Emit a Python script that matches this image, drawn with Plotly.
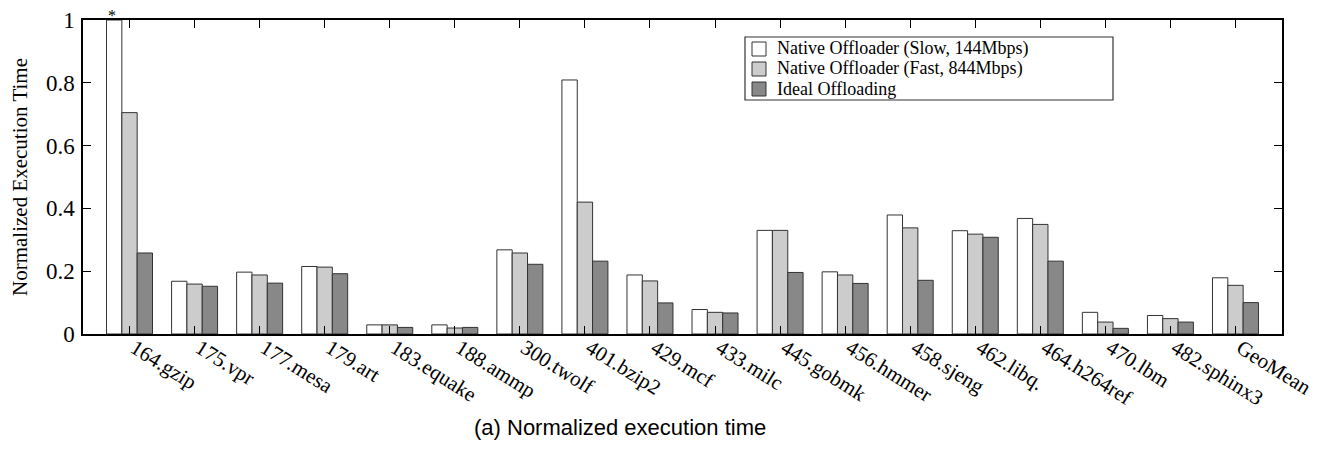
import plotly.graph_objects as go

categories = ["164.gzip", "175.vpr", "177.mesa", "179.art", "183.equake", "188.ammp",
              "300.twolf", "401.bzip2", "429.mcf", "433.milc", "445.gobmk", "456.hmmer",
              "458.sjeng", "462.libq.", "464.h264ref", "470.lbm", "482.sphinx3", "GeoMean"]
slow = [1.0, 0.168, 0.197, 0.215, 0.029, 0.029, 0.268, 0.809, 0.188, 0.078, 0.33, 0.198,
        0.379, 0.329, 0.368, 0.069, 0.059, 0.179]
fast = [0.705, 0.159, 0.188, 0.213, 0.029, 0.019, 0.258, 0.42, 0.169, 0.069, 0.33, 0.188,
        0.338, 0.318, 0.349, 0.038, 0.049, 0.155]
ideal = [0.258, 0.152, 0.162, 0.192, 0.021, 0.021, 0.222, 0.232, 0.099, 0.067, 0.196, 0.161,
         0.171, 0.308, 0.232, 0.018, 0.038, 0.1]
series_names = ["Native Offloader (Slow, 144Mbps)", "Native Offloader (Fast, 844Mbps)",
                "Ideal Offloading"]
series_colors = ["#ffffff", "#cccccc", "#888888"]
y_ticks = [0, 0.2, 0.4, 0.6, 0.8, 1]
y_ticktext = ["0", "0.2", "0.4", "0.6", "0.8", "1"]

SERIF = "Liberation Serif"
OFF = 8  # page body margin
W, H = 1325 - OFF, 463 - OFF
L, R, T, B = 83 - OFF, 43, 20 - OFF, 129
PW, PH = W - L - R, H - T - B


def px_x(x):
    return (x - OFF - L) / PW


def px_y(y):
    return (H - B - (y - OFF)) / PH


fig = go.Figure()
for name, vals, col in zip(series_names, [slow, fast, ideal], series_colors):
    fig.add_trace(go.Bar(x=categories, y=vals, name=name, showlegend=False,
                         marker=dict(color=col, line=dict(color="#333333", width=1))))

# manual legend (tight spacing like the original)
fig.add_shape(type="rect", xref="paper", yref="paper",
              x0=px_x(745), x1=px_x(1113), y0=px_y(100), y1=px_y(37),
              line=dict(color="#333333", width=1.2), fillcolor="white", layer="above")
for i, (name, col) in enumerate(zip(series_names, series_colors)):
    cy = 49 + 20 * i
    fig.add_shape(type="rect", xref="paper", yref="paper",
                  x0=px_x(752), x1=px_x(766), y0=px_y(cy + 7), y1=px_y(cy - 7),
                  line=dict(color="#333333", width=1), fillcolor=col, layer="above")
    fig.add_annotation(xref="paper", yref="paper", x=px_x(775), y=px_y(cy),
                       text=name, showarrow=False, xanchor="left", yanchor="middle",
                       font=dict(family=SERIF, size=18, color="black"))

# asterisk over clipped bar
fig.add_annotation(x=categories[0], xshift=-18, y=1.0, yref="y", yshift=5,
                   text="*", showarrow=False, yanchor="middle",
                   font=dict(family=SERIF, size=16, color="black"))

# caption
fig.add_annotation(xref="paper", yref="paper", x=px_x(620), y=px_y(427),
                   text="(a) Normalized execution time", showarrow=False,
                   xanchor="center", yanchor="middle",
                   font=dict(family="Liberation Sans", size=22, color="black"))

fig.update_layout(
    width=W, height=H,
    margin=dict(l=L, r=R, t=T, b=B, autoexpand=False),
    paper_bgcolor="white", plot_bgcolor="white",
    barmode="group", bargap=0.293, bargroupgap=0,
    font=dict(family=SERIF, color="black"),
)
fig.update_xaxes(range=[-0.715, len(categories) - 1 + 0.715], showline=True, linecolor="black",
                 linewidth=1.5, mirror="allticks", ticks="inside", ticklen=8, tickcolor="black",
                 tickangle=32, tickfont=dict(family=SERIF, size=21), showgrid=False,
                 ticklabelstandoff=-8, ticklabelshift=5, ticklabeloverflow="allow")
fig.update_yaxes(range=[0, 1], tickvals=y_ticks, ticktext=y_ticktext, showline=True,
                 linecolor="black", linewidth=1.5, mirror="allticks", ticks="inside",
                 ticklen=8, tickcolor="black", tickfont=dict(family=SERIF, size=23),
                 showgrid=False, zeroline=False, ticklabelstandoff=2, ticklabeloverflow="allow",
                 title=dict(text="Normalized Execution Time", font=dict(family=SERIF, size=21),
                            standoff=19))

fig.write_html("out.html")
